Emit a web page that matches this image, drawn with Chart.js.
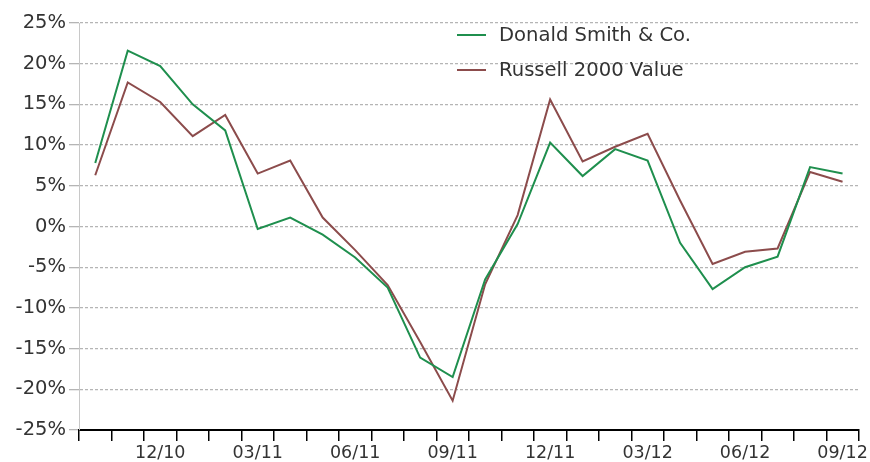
<!DOCTYPE html>
<html>
<head>
<meta charset="utf-8">
<script src="https://cdn.jsdelivr.net/npm/chart.js@4.4.1/dist/chart.umd.min.js"></script>
<style>
html,body{margin:0;padding:0;background:#fff;}
#wrap{position:relative;width:870px;height:462px;}
#legend{position:absolute;left:457px;top:22px;font-family:"DejaVu Sans",Verdana,sans-serif;font-size:19.6px;color:#333;}
.row{position:relative;height:35px;line-height:26px;white-space:nowrap;}
.sw{display:inline-block;width:29px;height:2px;vertical-align:middle;margin-right:13px;position:relative;top:-1px;}
</style>
</head>
<body>
<div id="wrap">
<canvas id="c" width="870" height="462"></canvas>
<div id="legend"></div>
</div>
<script>
const categories = ["10/10","11/10","12/10","01/11","02/11","03/11","04/11","05/11","06/11","07/11","08/11","09/11",
                    "10/11","11/11","12/11","01/12","02/12","03/12","04/12","05/12","06/12","07/12","08/12","09/12"];
const donaldSmith = [7.8, 21.6, 19.7, 15.0, 11.8, -0.3, 1.1, -1.0, -3.8, -7.5, -16.1, -18.5,
                     -6.5, 0.3, 10.3, 6.2, 9.5, 8.1, -2.0, -7.7, -5.0, -3.7, 7.3, 6.5];
const russell2000Value = [6.3, 17.7, 15.3, 11.1, 13.7, 6.5, 8.1, 1.1, -2.9, -7.2, -14.2, -21.4,
                          -7.1, 1.4, 15.6, 8.0, 9.8, 11.4, 3.2, -4.6, -3.1, -2.7, 6.7, 5.5];
const yTicks = [-25, -20, -15, -10, -5, 0, 5, 10, 15, 20, 25];
const seriesNames = ["Donald Smith & Co.", "Russell 2000 Value"];
const seriesColors = ["#1f8f4e", "#8c4c4c"];

const chart = new Chart(document.getElementById('c'), {
  type: 'line',
  data: {
    labels: categories,
    datasets: [
      {label: seriesNames[0], data: donaldSmith, borderColor: seriesColors[0], borderWidth: 2, pointRadius: 0, tension: 0, fill: false},
      {label: seriesNames[1], data: russell2000Value, borderColor: seriesColors[1], borderWidth: 2, pointRadius: 0, tension: 0, fill: false}
    ]
  },
  options: {
    responsive: false,
    animation: false,
    devicePixelRatio: 1,
    layout: {padding: {left: 0, right: 11, top: 23, bottom: 0}},
    plugins: {legend: {display: false}, tooltip: {enabled: false}},
    scales: {
      x: {
        type: 'category',
        offset: true,
        grid: {offset: true, drawOnChartArea: false, drawTicks: true, tickLength: 11, color: '#000', lineWidth: 1.5},
        border: {display: true, color: '#000', width: 2},
        ticks: {
          autoSkip: false, maxRotation: 0, color: '#333', padding: 2,
          font: {family: '"DejaVu Sans", Verdana, sans-serif', size: 17.5},
          callback: function(v, i) { return (i % 3 === 2) ? categories[i] : ''; }
        },
        afterFit: function(s) { s.height = 32; }
      },
      y: {
        min: -25, max: 25,
        afterBuildTicks: function(s) { s.ticks = yTicks.map(v => ({value: v})); },
        grid: {color: '#b5b5b5', lineWidth: 1.3, tickLength: 10},
        border: {display: true, color: '#c8c8c8', width: 1, dash: [3, 2]},
        ticks: {
          color: '#333', padding: 3,
          font: {family: '"DejaVu Sans", Verdana, sans-serif', size: 19.5},
          callback: function(v) { return v + '%'; }
        },
        afterFit: function(s) { s.width = 79; }
      }
    }
  }
});

const lg = document.getElementById('legend');
chart.data.datasets.forEach(function(ds) {
  const row = document.createElement('div');
  row.className = 'row';
  const sw = document.createElement('span');
  sw.className = 'sw';
  sw.style.background = ds.borderColor;
  row.appendChild(sw);
  row.appendChild(document.createTextNode(ds.label));
  lg.appendChild(row);
});
</script>
</body>
</html>
